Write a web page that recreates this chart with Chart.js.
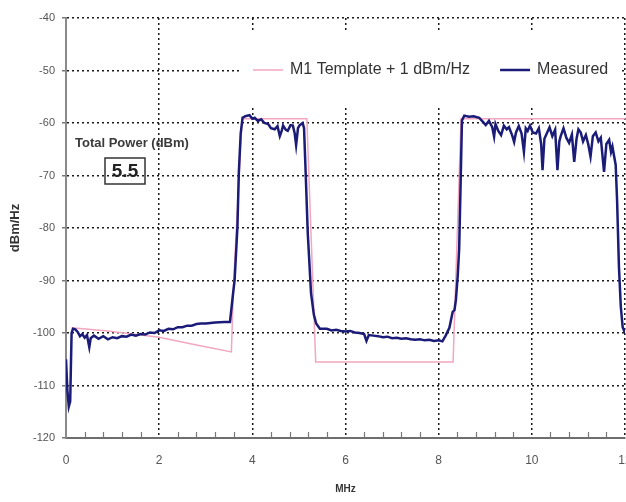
<!DOCTYPE html>
<html>
<head>
<meta charset="utf-8">
<title>PSD - M1 Template</title>
<script src="https://cdn.jsdelivr.net/npm/chart.js@4.4.1/dist/chart.umd.min.js"></script>
<style>
  html, body { margin: 0; padding: 0; background: #ffffff; }
  #psd-chart { display: block; }
</style>
</head>
<body>
<canvas id="psd-chart" width="626" height="502"></canvas>
<script>

// Series labels
let series_labels = [ 'M1 Template + 1 dBm/Hz', 'Measured' ];

// Template mask (MHz / dBm/Hz)
let template_mhz = [ 0.12, 0.9, 2.0, 2.8, 3.55, 3.6, 3.78, 5.17, 5.36, 8.31, 8.48, 12.0 ];
let template_dbm = [ -99, -99.6, -100.8, -102.3, -103.6, -90, -59.2, -59.2, -105.5, -105.5, -59.2, -59.2 ];

// Measured PSD (MHz / dBm/Hz)
let measured_mhz = [
    0.00, 0.03, 0.06, 0.09, 0.12, 0.15, 0.20, 0.25, 0.30, 0.35, 0.40, 0.45, 0.50, 0.53, 0.60, 0.70, 0.80, 0.90,
    1.00, 1.10, 1.20, 1.30, 1.40, 1.50, 1.60, 1.70, 1.80, 1.90, 2.00, 2.10, 2.20, 2.30, 2.40, 2.50, 2.60, 2.70,
    2.80, 2.90, 3.00, 3.20, 3.40, 3.52, 3.58, 3.62, 3.68, 3.71, 3.75, 3.79, 3.85, 3.94, 4.00, 4.05, 4.12, 4.19,
    4.26, 4.34, 4.40, 4.48, 4.54, 4.59, 4.63, 4.66, 4.72, 4.76, 4.82, 4.87, 4.91, 4.94, 4.98, 5.01, 5.05, 5.08,
    5.11, 5.14, 5.19, 5.26, 5.32, 5.37, 5.45, 5.60, 5.70, 5.80, 5.90, 6.00, 6.10, 6.20, 6.30, 6.40, 6.45, 6.50,
    6.60, 6.70, 6.80, 6.90, 7.00, 7.10, 7.20, 7.30, 7.40, 7.50, 7.60, 7.70, 7.80, 7.90, 8.00, 8.08, 8.15, 8.23,
    8.30, 8.34, 8.37, 8.41, 8.44, 8.47, 8.50, 8.55, 8.65, 8.75, 8.87, 8.95, 9.01, 9.08, 9.15, 9.19, 9.22, 9.28, 9.34,
    9.40, 9.46, 9.51, 9.58, 9.62, 9.66, 9.72, 9.78, 9.83, 9.87, 9.91, 9.96, 10.02, 10.09, 10.15, 10.20, 10.23, 10.27, 10.33,
    10.38, 10.44, 10.50, 10.55, 10.59, 10.62, 10.68, 10.74, 10.80, 10.86, 10.91, 10.96, 11.00, 11.05, 11.10, 11.16, 11.21, 11.26,
    11.31, 11.37, 11.43, 11.48, 11.55, 11.60, 11.66, 11.70, 11.73, 11.76, 11.80, 11.83, 11.87, 11.91, 11.95, 12.00
];
let measured_dbm = [
    -105, -111, -114, -113, -100, -99.2, -99.3, -99.8, -100.6, -100.2, -100.9, -100.4, -102.7, -101, -100.5, -101.1, -100.6, -101.2,
    -100.8, -101.0, -100.6, -100.7, -100.3, -100.5, -100.2, -100.3, -99.9, -100.0, -99.5, -99.6, -99.2, -99.3, -98.9, -98.9, -98.6, -98.6,
    -98.3, -98.2, -98.2, -98.0, -97.9, -97.9, -93, -89.9, -79.8, -69.5, -62, -59, -58.7, -58.5, -59.2, -59, -59.6, -59.3,
    -60, -60.2, -61, -61.2, -60.6, -62.5, -61.5, -60.5, -61.3, -61.5, -60.4, -60.5, -62, -64.2, -61, -60.5, -60.2, -60,
    -61, -68.3, -81, -92.4, -96.5, -98.2, -99.2, -99.2, -99.5, -99.4, -99.6, -99.7, -99.6, -99.9, -100.0, -100.2, -101.5, -100.4,
    -100.5, -100.6, -100.8, -100.7, -101.0, -100.9, -101.1, -101.0, -101.2, -101.3, -101.2, -101.4, -101.3, -101.5, -101.4, -101.6, -100.5, -99,
    -96, -95.6, -93.7, -89, -84, -72, -59.5, -58.6, -58.8, -58.7, -59, -59.8, -60.4, -59.6, -60.8, -62.6, -60.2, -61.5, -62.3,
    -60.5, -61.2, -60.8, -62.4, -63.6, -61.8, -60.6, -62, -65.5, -61, -61.5, -60.5, -61.8, -62, -61, -64, -69, -63, -61.8,
    -60.8, -62.5, -61.3, -69, -63.5, -62.5, -61, -62.8, -63.8, -62.2, -67.4, -63, -61.2, -61.8, -63.5, -62.3, -64, -66.4,
    -62.5, -61.8, -63.5, -62.8, -69.3, -64, -63.2, -65.5, -64.5, -66, -68, -74.7, -87.4, -95, -98.9, -100
];

// Annotation
let total_power_label = 'Total Power (dBm)';
let total_power_value = '5.5';

let psd_font   = "'Liberation Sans', Arial, sans-serif";
let psd_colors = [ '#f2a7bf', '#1b1b78' ];

/**
 * Zip two arrays into {x, y} points
 */
function psd_points( xs, ys ) {
    return xs.map( function( x, i ) { return { x: x, y: ys[ i ] }; } );
}

/**
 * Legend, annotation box and inward minor ticks
 */
let psd_extras = {
    id: 'psd_extras',
    beforeDatasetsDraw: function( chart ) {
        let ctx = chart.ctx;

        // Legend sits in a white box on top of the grid
        ctx.save();
        ctx.fillStyle = '#ffffff';
        ctx.fillRect( 240, 33, 382, 72 );

        ctx.font         = '16px ' + psd_font;
        ctx.textBaseline = 'middle';
        ctx.textAlign    = 'left';

        let x = 253;
        let y = 70;
        chart.data.datasets.forEach( function( ds ) {
            ctx.strokeStyle = ds.borderColor;
            ctx.lineWidth   = ds.borderWidth;
            ctx.beginPath();
            ctx.moveTo( x, y );
            ctx.lineTo( x + 30, y );
            ctx.stroke();
            ctx.fillStyle = '#333333';
            ctx.fillText( ds.label, x + 37, y );
            x += 37 + ctx.measureText( ds.label ).width + 30;
        });

        // Total power
        ctx.font      = 'bold 13px ' + psd_font;
        ctx.fillStyle = '#3a3a3a';
        ctx.fillText( total_power_label, 75, 143 );

        ctx.strokeStyle = '#333333';
        ctx.lineWidth   = 1.5;
        ctx.strokeRect( 105, 158, 40, 26 );
        ctx.font      = 'bold 19px ' + psd_font;
        ctx.textAlign = 'center';
        ctx.fillStyle = '#222222';
        ctx.fillText( total_power_value, 125, 172 );
        ctx.restore();
    },
    afterDraw: function( chart ) {
        let ctx    = chart.ctx;
        let xscale = chart.scales.x;
        let bottom = chart.chartArea.bottom;

        ctx.save();
        ctx.strokeStyle = '#777777';
        ctx.lineWidth   = 1.2;
        for ( let i = 1; i < 30; i++ ) {
            if ( 0 === i % 5 ) {
                continue;
            }
            let px = Math.round( xscale.getPixelForValue( i * 0.4 ) ) + 0.5;
            ctx.beginPath();
            ctx.moveTo( px, bottom );
            ctx.lineTo( px, bottom - 6 );
            ctx.stroke();
        }
        ctx.restore();
    }
};

let psd_chart = new Chart( document.getElementById( 'psd-chart' ), {
    type: 'line',
    data: {
        datasets: [
            {
                label:       series_labels[ 0 ],
                data:        psd_points( template_mhz, template_dbm ),
                borderColor: psd_colors[ 0 ],
                borderWidth: 1.5,
                pointRadius: 0,
                tension:     0,
                order:       2
            },
            {
                label:       series_labels[ 1 ],
                data:        psd_points( measured_mhz, measured_dbm ),
                borderColor: psd_colors[ 1 ],
                borderWidth: 2.5,
                pointRadius: 0,
                tension:     0,
                order:       1
            }
        ]
    },
    options: {
        responsive:       false,
        animation:        false,
        devicePixelRatio: 1,
        layout: {
            padding: { top: 18, right: 1, left: 0, bottom: 0 }
        },
        plugins: {
            legend:  { display: false },
            tooltip: { enabled: false }
        },
        scales: {
            x: {
                type: 'linear',
                min:  0,
                max:  12,
                ticks: {
                    stepSize: 2,
                    padding:  15,
                    color:    '#555555',
                    font:     { family: psd_font, size: 12 }
                },
                grid: {
                    drawTicks: false,
                    lineWidth: 1.5,
                    color: function( c ) {
                        return ( c.tick && 0 === c.tick.value ) ? 'rgba(0,0,0,0)' : '#1a1a1a';
                    }
                },
                border: { color: '#6e6e6e', width: 2, dash: [ 2, 3 ] },
                title: {
                    display: true,
                    text:    'MHz',
                    color:   '#333333',
                    padding: { top: 0, bottom: 7 },
                    font:    { family: psd_font, size: 10, weight: 'bold' }
                },
                afterFit: function( scale ) {
                    scale.height       = 64;
                    scale.paddingLeft  = 0;
                    scale.paddingRight = 0;
                }
            },
            y: {
                min: -120,
                max: -40,
                ticks: {
                    stepSize: 10,
                    padding:  7,
                    color:    '#555555',
                    font:     { family: psd_font, size: 11 }
                },
                grid: {
                    tickLength: 4,
                    tickColor:  '#777777',
                    lineWidth:  1.5,
                    color: function( c ) {
                        return ( c.tick && -120 === c.tick.value ) ? 'rgba(0,0,0,0)' : '#1a1a1a';
                    }
                },
                border: { color: '#8a8a8a', width: 2, dash: [ 2, 3 ] },
                title: {
                    display: true,
                    text:    'dBm/Hz',
                    color:   '#333333',
                    padding: { top: 8, bottom: 0 },
                    font:    { family: psd_font, size: 13, weight: 'bold' }
                },
                afterFit: function( scale ) {
                    scale.width = 66;
                }
            }
        }
    },
    plugins: [ psd_extras ]
});
</script>
</body>
</html>
